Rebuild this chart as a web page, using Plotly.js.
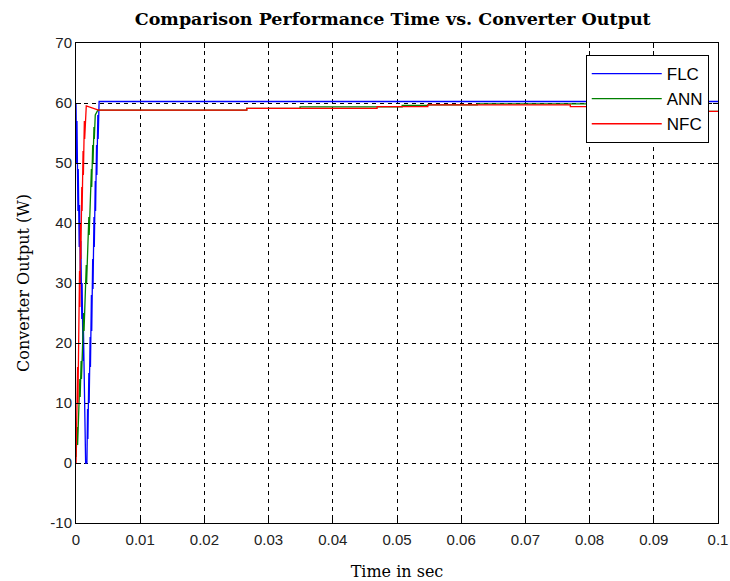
<!DOCTYPE html>
<html>
<head>
<meta charset="utf-8">
<script src="https://cdn.plot.ly/plotly-3.0.1.min.js"></script>
<style>html,body{margin:0;padding:0;background:#fff;}#chart{width:730px;height:581px;}</style>
</head>
<body>
<div id="chart"></div>
<script>
// FLC series (time in s, output in W)
var flcTime = [0, 0.0001, 0.00015, 0.0003, 0.00035, 0.0005, 0.00055, 0.0007, 0.00075, 0.0009, 0.00095, 0.0011, 0.00115, 0.0013, 0.00135, 0.0015, 0.0017, 0.0018, 0.00185, 0.002, 0.00205, 0.0022, 0.00225, 0.0024, 0.00245, 0.0026, 0.00265, 0.0028, 0.00285, 0.003, 0.00305, 0.0032, 0.00325, 0.0034, 0.00345, 0.0036, 0.1];
var flcOut  = [60, 50, 57, 42, 49, 36, 43, 30, 37, 24, 30, 17, 23, 9, 14, 0, 0, 9, 4, 15, 10, 21, 16, 28, 22, 34, 29, 41, 36, 47, 42, 53, 48, 58, 54, 60.25, 60.25];

// ANN series
var annTime = [0, 0.0002, 0.00025, 0.0004, 0.00045, 0.0006, 0.00065, 0.0008, 0.00085, 0.001, 0.00105, 0.0012, 0.00125, 0.0014, 0.00145, 0.0016, 0.00165, 0.0018, 0.00185, 0.002, 0.00205, 0.0022, 0.00225, 0.0024, 0.00245, 0.0026, 0.00265, 0.0028, 0.00285, 0.003, 0.0034, 0.0266, 0.0266, 0.0349, 0.0349, 0.0508, 0.0508, 0.0548, 0.0548, 0.0625, 0.0625, 0.09, 0.09, 0.1];
var annOut  = [1, 6, 3, 10, 7, 14, 11, 17, 14, 21, 18, 25, 22, 29, 26, 33, 30, 37, 34, 41, 38, 45, 42, 49, 46, 53, 50, 56, 54, 58, 58.8, 58.8, 59.1, 59.1, 59.35, 59.35, 59.6, 59.6, 59.7, 59.7, 59.85, 59.85, 58.6, 58.6];

// NFC series
var nfcTime = [0, 0.0001, 0.00015, 0.00025, 0.0003, 0.0004, 0.00045, 0.00055, 0.0006, 0.0007, 0.00075, 0.0009, 0.00095, 0.0011, 0.00115, 0.0013, 0.00135, 0.0016, 0.0035, 0.0266, 0.0266, 0.0469, 0.0469, 0.0548, 0.0548, 0.077, 0.077, 0.09, 0.09, 0.1];
var nfcOut  = [0, 10, 4, 16, 10, 24, 18, 32, 26, 40, 34, 46, 42, 52, 48, 57, 54, 59.5, 58.8, 58.8, 59.1, 59.1, 59.4, 59.4, 59.7, 59.7, 59.4, 59.4, 58.6, 58.6];

var seriesNames = ['FLC', 'ANN', 'NFC'];
var xTicks = [0, 0.01, 0.02, 0.03, 0.04, 0.05, 0.06, 0.07, 0.08, 0.09, 0.1];
var xTickText = ['0', '0.01', '0.02', '0.03', '0.04', '0.05', '0.06', '0.07', '0.08', '0.09', '0.1'];
var yTicks = [-10, 0, 10, 20, 30, 40, 50, 60, 70];
var yTickText = ['-10', '0', '10', '20', '30', '40', '50', '60', '70'];

var traces = [
  {x: flcTime, y: flcOut, name: seriesNames[0], type: 'scatter', mode: 'lines', line: {color: '#0000ff', width: 1.3}},
  {x: annTime, y: annOut, name: seriesNames[1], type: 'scatter', mode: 'lines', line: {color: '#008000', width: 1.3}},
  {x: nfcTime, y: nfcOut, name: seriesNames[2], type: 'scatter', mode: 'lines', line: {color: '#ff0000', width: 1.3}}
];

var axisCommon = {
  showline: true, linecolor: '#000', linewidth: 1, mirror: 'ticks',
  ticks: 'inside', ticklen: 5, tickcolor: '#000',
  showgrid: true, gridcolor: '#000', gridwidth: 1, griddash: '4px,4px',
  zeroline: false,
  tickfont: {family: 'Liberation Sans, Arial, sans-serif', size: 15, color: '#222'}
};

var layout = {
  width: 730, height: 581,
  margin: {l: 76, r: 12, t: 43, b: 58},
  paper_bgcolor: '#fff', plot_bgcolor: '#fff',
  showlegend: true,
  title: {text: 'Comparison Performance Time vs. Converter Output', x: 0.538, xanchor: 'center', y: 0.978, yanchor: 'top',
          font: {family: 'DejaVu Serif, serif', size: 17.5, color: '#000', weight: 'bold'}},
  xaxis: Object.assign({}, axisCommon, {
    range: [0, 0.1], tickvals: xTicks, ticktext: xTickText, ticklabelstandoff: 3,
    title: {text: 'Time in sec', font: {family: 'DejaVu Serif, serif', size: 16, color: '#000'}, standoff: 20}
  }),
  yaxis: Object.assign({}, axisCommon, {
    range: [-10, 70], tickvals: yTicks, ticktext: yTickText,
    title: {text: 'Converter Output (W)', font: {family: 'DejaVu Serif, serif', size: 16, color: '#000'}, standoff: 16}
  }),
  legend: {x: 0.794, y: 0.975, xanchor: 'left', yanchor: 'top', bgcolor: '#fff', bordercolor: '#000', borderwidth: 1,
           itemwidth: 70,
           font: {family: 'Liberation Sans, Arial, sans-serif', size: 17, color: '#000'}, tracegroupgap: 0}
};

Plotly.newPlot('chart', traces, layout, {displayModeBar: false, staticPlot: true});
</script>
</body>
</html>
